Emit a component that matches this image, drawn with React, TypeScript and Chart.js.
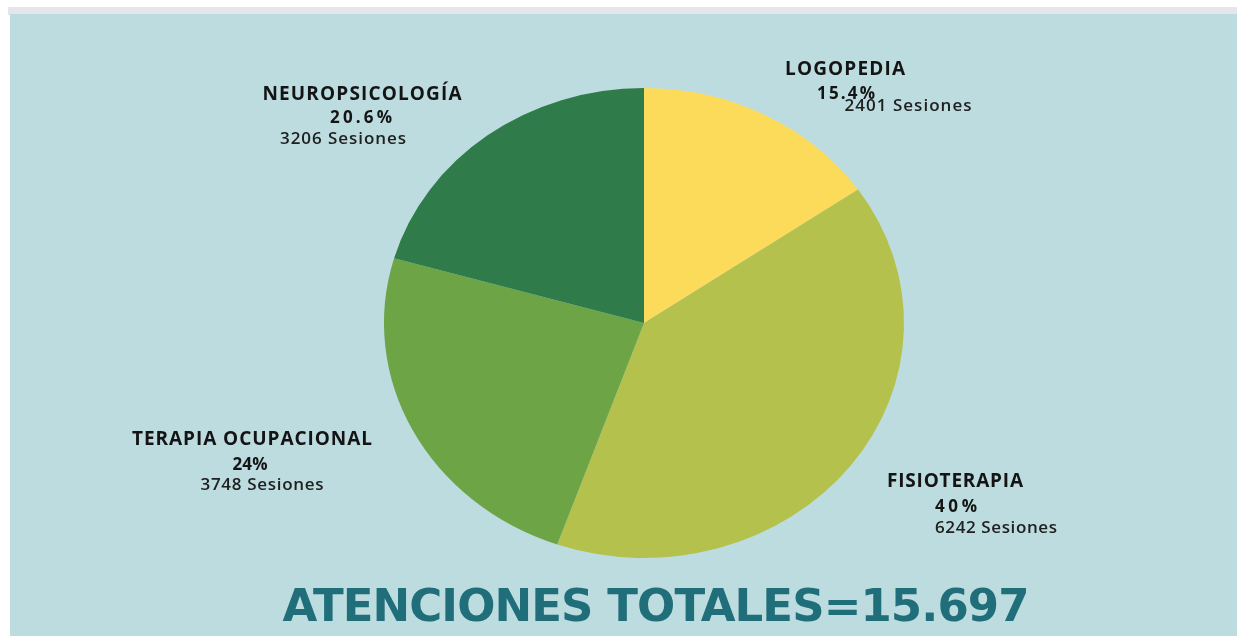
import React, { useEffect, useRef } from "react";
import { Chart, registerables } from "chart.js";

Chart.register(...registerables);

// ---- data ----
const categories = ["LOGOPEDIA", "FISIOTERAPIA", "TERAPIA OCUPACIONAL", "NEUROPSICOLOGÍA"];
const sessions = [2401, 6242, 3748, 3206];
const percentLabels = ["15.4%", "40%", "24%", "20.6%"];
const totalLabel = "ATENCIONES TOTALES=15.697";

// ---- styles / layout ----
const sliceColors = ["#FDDB5A", "#B4C14D", "#6CA446", "#2F7B4A"];
const ELLIPSE_SX = 260 / 235;
// per label: [cx, baseline, width] for name, percent, sessions
const labelLayout = [
  [[845, 75, 120], [846, 99, 58], [908, 111, 127]],
  [[955, 487, 136], [956, 512, 42], [996, 533, 122]],
  [[252, 445, 240], [250, 470, 35], [262, 490, 123]],
  [[362, 100, 199], [361, 123, 62], [343, 144, 126]],
];

function drawFit(ctx: CanvasRenderingContext2D, text: string, cx: number, base: number, font: string, target: number, color: string) {
  ctx.save();
  ctx.font = font;
  (ctx as any).letterSpacing = "0px";
  const w = ctx.measureText(text).width;
  const n = Math.max(text.length - 1, 1);
  const sp = (target - w) / n;
  (ctx as any).letterSpacing = `${sp}px`;
  ctx.fillStyle = color;
  ctx.textAlign = "left";
  ctx.textBaseline = "alphabetic";
  ctx.fillText(text, cx - target / 2, base);
  ctx.restore();
}

const ellipsePlugin = {
  id: "ellipse",
  beforeDatasetsDraw(chart: any) {
    const arc = chart.getDatasetMeta(0).data[0];
    const ctx = chart.ctx;
    ctx.save();
    ctx.translate(arc.x, 0);
    ctx.scale(ELLIPSE_SX, 1);
    ctx.translate(-arc.x, 0);
  },
  afterDatasetsDraw(chart: any) {
    chart.ctx.restore();
  },
};

const labelPlugin = {
  id: "labels",
  afterDraw(chart: any) {
    const ctx = chart.ctx as CanvasRenderingContext2D;
    categories.forEach((name, i) => {
      const [n, p, s] = labelLayout[i];
      drawFit(ctx, name, n[0], n[1], "bold 19px 'Open Sans'", n[2], "#141414");
      drawFit(ctx, percentLabels[i], p[0], p[1], "bold 17px 'Open Sans'", p[2], "#141414");
      drawFit(ctx, `${sessions[i]} Sesiones`, s[0], s[1], "600 17px 'Open Sans'", s[2], "#202020");
    });
    drawFit(ctx, totalLabel, 656, 621, "bold 45px 'DejaVu Sans'", 747, "#1F6E79");
  },
};

export default function App() {
  const ref = useRef<HTMLCanvasElement | null>(null);
  useEffect(() => {
    if (!ref.current) return;
    const chart = new Chart(ref.current, {
      type: "pie",
      data: {
        labels: categories,
        datasets: [
          {
            data: sessions,
            backgroundColor: sliceColors,
            borderWidth: 0,
            hoverBorderWidth: 0,
            offset: 0,
            hoverOffset: 0,
            clip: false as any,
          },
        ],
      },
      options: {
        animation: false,
        responsive: true,
        maintainAspectRatio: false,
        layout: { padding: { top: 88, bottom: 78, left: 51, right: 0 } },
        plugins: {
          legend: { display: false },
          tooltip: { enabled: false },
          title: { display: false },
        },
        events: [],
      },
      plugins: [ellipsePlugin, labelPlugin],
    });
    return () => chart.destroy();
  }, []);

  return (
    <div style={{ position: "absolute", left: 0, top: 0, width: 1237, height: 636, background: "#ffffff", overflow: "hidden" }}>
      <div style={{ position: "absolute", left: 8, top: 7, right: 0, height: 8, background: "#e3e7e9" }} />
      <div style={{ position: "absolute", left: 10, top: 14, right: 0, bottom: 0, background: "#BCDCDF" }} />
      <div style={{ position: "absolute", left: 0, top: 0, width: 1237, height: 636 }}>
        <canvas ref={ref} />
      </div>
    </div>
  );
}
